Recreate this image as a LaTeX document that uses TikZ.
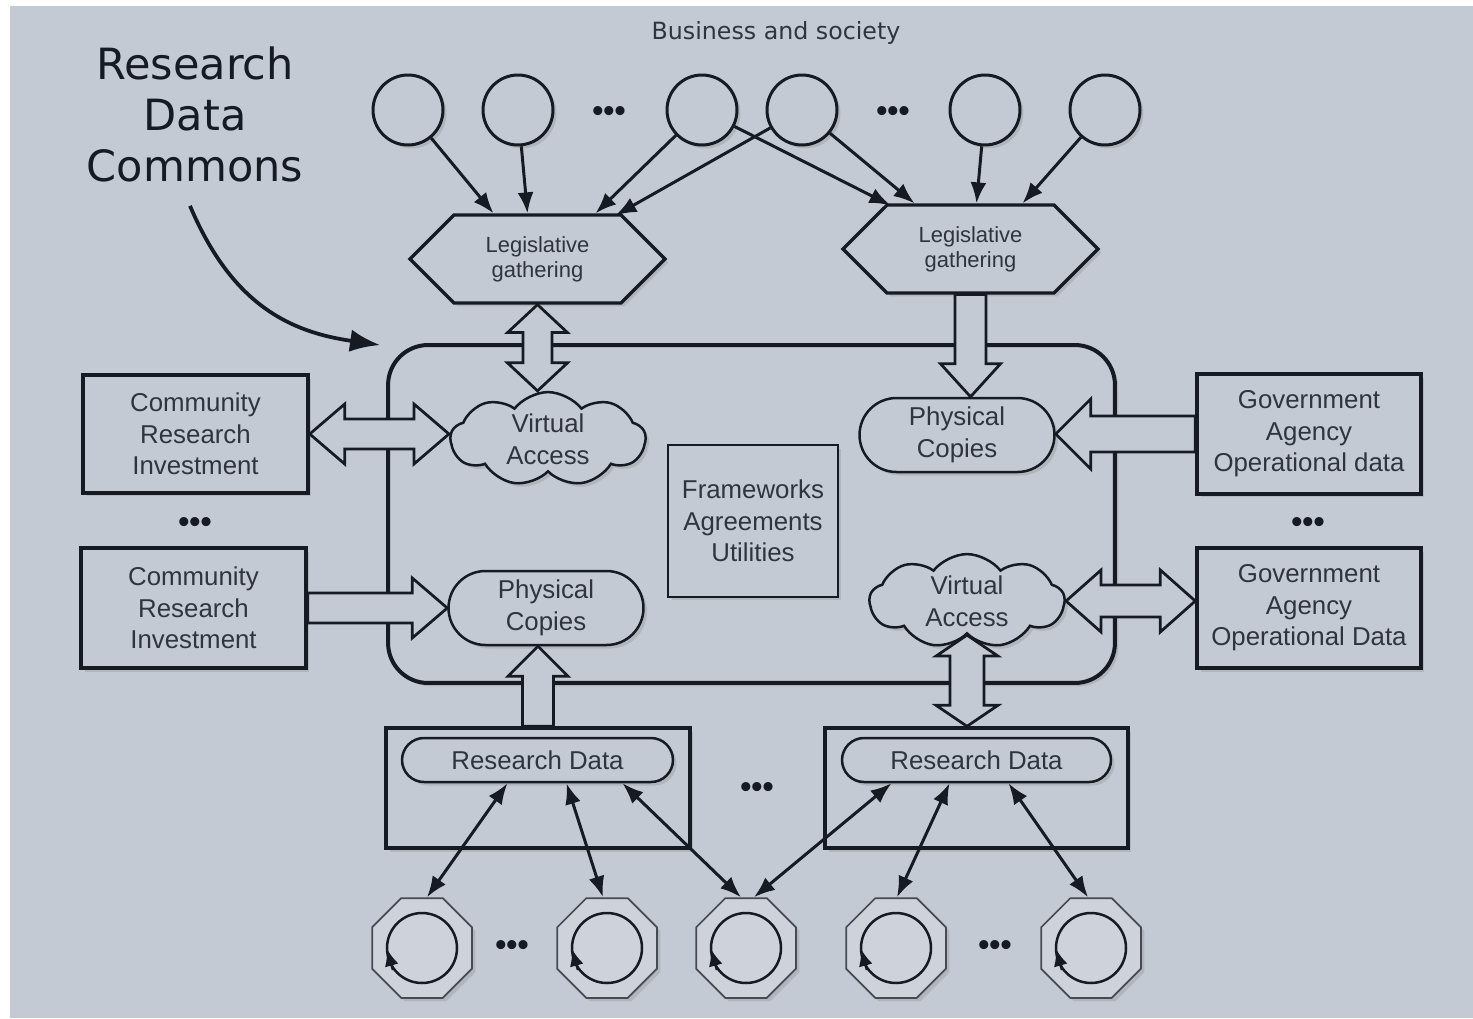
\documentclass[tikz,border=0pt]{standalone}
\usepackage{fontspec}
\setmainfont{Liberation Sans}
\newfontfamily\lucida{DejaVu Sans}
\usetikzlibrary{arrows.meta,calc,shapes.geometric,shapes.symbols,shapes.misc,shadows}

\definecolor{bgc}{RGB}{196,202,212}
\definecolor{inkc}{RGB}{22,26,34}
\definecolor{txtc}{RGB}{48,52,60}
\definecolor{octc}{RGB}{206,211,219}
\definecolor{octline}{RGB}{70,74,82}

% single hollow block arrow from #1 to #2; half shaft #3, half head #4, head length #5
\newcommand{\fatarr}[5]{%
  \path (#1) coordinate (fA) (#2) coordinate (fB);
  \path ($(fB)!#5!(fA)$) coordinate (fH);
  \draw[fatline] ($(fA)!#3!90:(fB)$) -- ($(fH)!#3!90:(fB)$) -- ($(fH)!#4!90:(fB)$) -- (fB)
    -- ($(fH)!#4!-90:(fB)$) -- ($(fH)!#3!-90:(fB)$) -- ($(fA)!#3!-90:(fB)$) -- cycle;
}
% double hollow block arrow
\newcommand{\fatdbl}[5]{%
  \path (#1) coordinate (fA) (#2) coordinate (fB);
  \path ($(fB)!#5!(fA)$) coordinate (fH) ($(fA)!#5!(fB)$) coordinate (fG);
  \draw[fatline] (fA) -- ($(fG)!#4!90:(fB)$) -- ($(fG)!#3!90:(fB)$) -- ($(fH)!#3!90:(fB)$)
    -- ($(fH)!#4!90:(fB)$) -- (fB) -- ($(fH)!#4!-90:(fB)$) -- ($(fH)!#3!-90:(fB)$)
    -- ($(fG)!#3!-90:(fB)$) -- ($(fG)!#4!-90:(fB)$) -- cycle;
}
% octagon loop: circle with an upward arrowhead on its lower left
\newcommand{\octloop}[1]{%
  \draw[line width=0.05cm, draw=inkc] (#1.center) circle[radius=0.7cm];
  \draw[line width=0.05cm, draw=inkc, -{Latex[length=0.34cm,width=0.28cm]}]
    ([shift={(-29,22)}]#1.center) -- ([shift={(-35,1)}]#1.center);
}

\tikzset{
  shd/.style={drop shadow={shadow xshift=0.07cm, shadow yshift=-0.07cm, opacity=0.28}},
  base/.style={font=\fontsize{14.7}{18}\selectfont, text=txtc, align=center,
    line width=0.07cm, draw=inkc, fill=bgc, inner sep=0pt, shd},
  box/.style={base, rectangle},
  blob/.style={base, circle, minimum size=1.4cm, line width=0.06cm},
  hexa/.style={base, signal, signal to=east and west, signal pointer angle=90,
    minimum width=5.1cm, minimum height=1.76cm, line width=0.065cm,
    font=\fontsize{12.5}{14.2}\selectfont},
  cloudy/.style={base, cloud, cloud puffs=9, cloud puff arc=105, aspect=2.2,
    minimum width=3.9cm, minimum height=1.84cm, line width=0.05cm},
  stadium/.style={base, rounded rectangle, line width=0.05cm},
  oct/.style={regular polygon, regular polygon sides=8, minimum size=2.16cm,
    draw=octline, fill=octc, line width=0.035cm, inner sep=0pt, shd},
  dots/.style={font=\fontsize{18}{18}\selectfont\bfseries, text=inkc},
  fatline/.style={draw=inkc, line width=0.055cm, fill=bgc, line join=miter},
  conn/.style={draw=inkc, line width=0.06cm, -{Latex[length=0.42cm,width=0.32cm]}},
  dconn/.style={draw=inkc, line width=0.06cm, {Latex[length=0.42cm,width=0.32cm]}-{Latex[length=0.42cm,width=0.32cm]}},
}

\begin{document}
\begin{tikzpicture}[x=0.02cm, y=-0.02cm]
\useasboundingbox (0,0) rectangle (1473,1018);
\fill[white] (0,0) rectangle (1473,1018);
\fill[bgc] (10,6) rectangle (1473,1018);

% titles
\node[font=\lucida\fontsize{13.5}{16}\selectfont, text=txtc] (bs) at (776,33) {Business and society};
\node[font=\lucida\fontsize{24.5}{29}\selectfont, text=inkc, align=center] (rdct) at (195,114) {Research\\Data\\Commons};

% main commons area
\node[box, rounded corners=0.8cm, line width=0.08cm, minimum width=14.54cm, minimum height=6.76cm] (rdc) at (751.5,514) {};

% top circles
\node[blob] (c1) at (408,110) {};
\node[blob] (c2) at (518,110) {};
\node[blob] (c3) at (702,110) {};
\node[blob] (c4) at (802,110) {};
\node[blob] (c5) at (985,110) {};
\node[blob] (c6) at (1105,110) {};
\node[dots] (dt1) at (609,114) {•••};
\node[dots] (dt2) at (893,114) {•••};

% legislative gathering
\node[hexa] (h1) at (537.5,259) {Legislative\\gathering};
\node[hexa] (h2) at (970.5,249) {Legislative\\gathering};

% side boxes
\node[box, minimum width=4.5cm, minimum height=2.36cm] (cri1) at (195.5,434) {Community\\Research\\Investment};
\node[box, minimum width=4.5cm, minimum height=2.4cm] (cri2) at (193.5,608) {Community\\Research\\Investment};
\node[dots] (dt3) at (195,525) {•••};
\node[box, minimum width=4.48cm, minimum height=2.4cm] (gov1) at (1309,434) {Government\\Agency\\Operational data};
\node[box, minimum width=4.48cm, minimum height=2.4cm] (gov2) at (1309,608) {Government\\Agency\\Operational Data};
\node[dots] (dt4) at (1308,525) {•••};

% inner elements
\node[cloudy] (va1) at (548,439) {Virtual\\Access};
\node[cloudy] (va2) at (967,601) {Virtual\\Access};
\node[stadium, minimum width=3.9cm, minimum height=1.48cm] (pc1) at (546,608) {Physical\\Copies};
\node[stadium, minimum width=3.9cm, minimum height=1.48cm] (pc2) at (957,435) {Physical\\Copies};
\node[box, line width=0.045cm, minimum width=3.4cm, minimum height=3.04cm] (fw) at (753,521) {Frameworks\\Agreements\\Utilities};

% research data
\node[box, minimum width=6.08cm, minimum height=2.4cm] (rb1) at (538,788) {};
\node[box, minimum width=6.06cm, minimum height=2.4cm] (rb2) at (976.5,788) {};
\node[stadium, minimum width=5.42cm, minimum height=0.88cm] (rd1) at (537.5,760) {Research Data};
\node[stadium, minimum width=5.38cm, minimum height=0.88cm] (rd2) at (976.5,760) {Research Data};
\node[dots] (dt5) at (757,790) {•••};

% octagons
\node[oct] (o1) at (422,948) {};
\node[oct] (o2) at (607,948) {};
\node[oct] (o3) at (746,948) {};
\node[oct] (o4) at (896,948) {};
\node[oct] (o5) at (1091,948) {};
\octloop{o1}\octloop{o2}\octloop{o3}\octloop{o4}\octloop{o5}
\node[dots] (dt6) at (512,948) {•••};
\node[dots] (dt7) at (995,948) {•••};

% curved pointer
\draw[draw=inkc, line width=0.075cm, -{Latex[length=0.6cm,width=0.45cm]}]
  ($(rdct.south)+(-5,18)$) .. controls (232,305) and (290,332) .. ([shift={(-6,2)}]rdc.north west);

% top connectors
\draw[conn] (c1) -- ($(h1.north)+(-44,0)$);
\draw[conn] (c2) -- ($(h1.north)+(-10,0)$);
\draw[conn] (c3) -- ($(h1.north)+(58,0)$);
\draw[conn] (c4) -- ($(h1.north)+(78,2)$);
\draw[conn] (c3) -- ($(h2.north)+(-80,2)$);
\draw[conn] (c4) -- ($(h2.north)+(-56,0)$);
\draw[conn] (c5) -- ($(h2.north)+(6,0)$);
\draw[conn] (c6) -- ($(h2.north)+(52,0)$);

% bottom connectors
\draw[dconn] ($(rd1.south)+(-30,0)$) -- ($(o1.north)+(5,0)$);
\draw[dconn] ($(rd1.south)+(29,0)$) -- ($(o2.north)+(-4,0)$);
\draw[dconn] ($(rd1.south)+(85,0)$) -- ($(o3.north)+(-5,0)$);
\draw[dconn] ($(rd2.south)+(-85,0)$) -- ($(o3.north)+(8,0)$);
\draw[dconn] ($(rd2.south)+(-27,0)$) -- ($(o4.north)+(1,0)$);
\draw[dconn] ($(rd2.south)+(32,0)$) -- ($(o5.north)+(-3,0)$);

% block arrows
\fatdbl{h1.south}{h1.south |- va1.north}{0.29cm}{0.6cm}{0.56cm}
\fatarr{h2.south}{h2.south |- pc2.north}{0.31cm}{0.6cm}{0.66cm}
\fatdbl{cri1.east}{cri1.east -| va1.west}{0.3cm}{0.6cm}{0.7cm}
\fatarr{cri2.east}{cri2.east -| pc1.west}{0.3cm}{0.6cm}{0.7cm}
\fatarr{gov1.west}{gov1.west -| pc2.east}{0.36cm}{0.7cm}{0.7cm}
\fatdbl{va2.east}{va2.east -| gov2.west}{0.32cm}{0.62cm}{0.7cm}
\fatarr{rb1.north}{rb1.north |- pc1.south}{0.31cm}{0.6cm}{0.6cm}
\fatdbl{va2.south}{va2.south |- rb2.north}{0.34cm}{0.62cm}{0.42cm}
\end{tikzpicture}
\end{document}
